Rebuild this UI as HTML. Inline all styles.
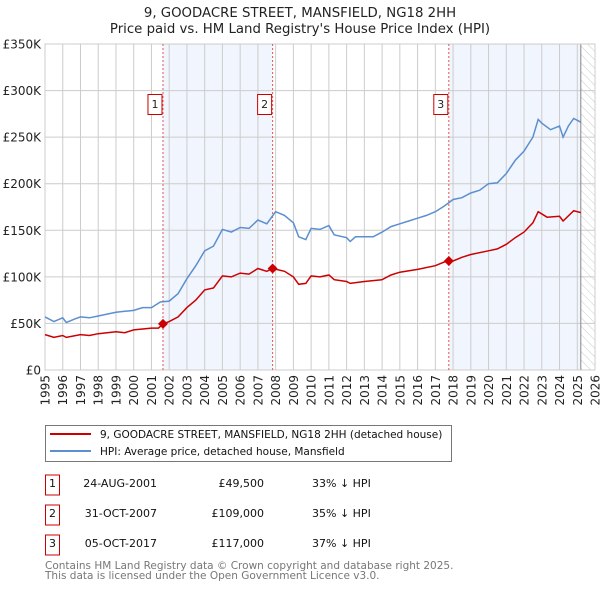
<!DOCTYPE html>
<html><head><meta charset="utf-8"><style>
body{margin:0;background:#fff;font-family:"DejaVu Sans","Liberation Sans",sans-serif;}
svg text{font-family:"DejaVu Sans","Liberation Sans",sans-serif;}
</style></head><body>
<svg id="chart" width="600" height="590" xmlns="http://www.w3.org/2000/svg">
<defs><pattern id="hatch" width="6" height="6" patternUnits="userSpaceOnUse" patternTransform="rotate(-45)"><line x1="0" y1="0" x2="0" y2="6" stroke="#ccc" stroke-width="1"/></pattern></defs>
<text x="300" y="17" text-anchor="middle" font-size="13.3" fill="#222">9, GOODACRE STREET, MANSFIELD, NG18 2HH</text>
<text x="300" y="33" text-anchor="middle" font-size="13.3" fill="#222">Price paid vs. HM Land Registry's House Price Index (HPI)</text>
<g id="plot"></g>
<g>
<rect x="45.5" y="425.5" width="406" height="36" fill="#fff" stroke="#777"/>
<line x1="50" y1="434" x2="91" y2="434" stroke="#cc0000" stroke-width="2"/>
<text x="100" y="438" font-size="10.5" fill="#111">9, GOODACRE STREET, MANSFIELD, NG18 2HH (detached house)</text>
<line x1="50" y1="451" x2="91" y2="451" stroke="#5b8fd0" stroke-width="2"/>
<text x="100" y="455" font-size="10.5" fill="#111">HPI: Average price, detached house, Mansfield</text>
</g>
<g id="table"></g>
<text x="45" y="569" font-size="10.5" fill="#777">Contains HM Land Registry data © Crown copyright and database right 2025.</text>
<text x="45" y="579" font-size="10.5" fill="#777">This data is licensed under the Open Government Licence v3.0.</text>
</svg>
<script>
const hpiYears=[1995,1995.5,1996,1996.2,1996.7,1997,1997.5,1998,1998.5,1999,1999.5,2000,2000.5,2001,2001.5,2002,2002.5,2003,2003.5,2004,2004.5,2005,2005.5,2006,2006.5,2007,2007.5,2008,2008.5,2009,2009.3,2009.7,2010,2010.5,2011,2011.3,2012,2012.2,2012.5,2013,2013.5,2014,2014.5,2015,2015.5,2016,2016.5,2017,2017.5,2018,2018.5,2019,2019.5,2020,2020.5,2021,2021.5,2022,2022.5,2022.8,2023,2023.5,2024,2024.2,2024.5,2024.8,2025.2];
const hpiValues=[57,52,56,51,55,57,56,58,60,62,63,64,67,67,73,74,82,98,112,128,133,151,148,153,152,161,157,170,166,158,143,140,152,151,155,145,142,138,143,143,143,148,154,157,160,163,166,170,176,183,185,190,193,200,201,211,225,235,250,269,265,258,262,250,262,270,266];
const ppdYears=[1995,1995.5,1996,1996.2,1997,1997.5,1998,1999,1999.5,2000,2001,2001.4,2001.65,2002,2002.5,2003,2003.5,2004,2004.5,2005,2005.5,2006,2006.5,2007,2007.5,2007.83,2008.5,2009,2009.3,2009.7,2010,2010.5,2011,2011.3,2012,2012.2,2013,2014,2014.5,2015,2016,2017,2017.5,2017.76,2018,2018.5,2019,2020,2020.5,2021,2021.5,2022,2022.5,2022.8,2023.3,2024,2024.2,2024.8,2025.2];
const ppdValues=[38,35,37,35,38,37,39,41,40,43,45,45,49.5,52,57,67,75,86,88,101,100,104,103,109,106,109,106,100,92,93,101,100,102,97,95,93,95,97,102,105,108,112,116,117,117,121,124,128,130,135,142,148,158,170,164,165,160,171,169];
const saleYears=[2001.65,2007.83,2017.76];
const saleValues=[49.5,109,117];
const saleLabels=["1","2","3"];
const saleDates=["24-AUG-2001","31-OCT-2007","05-OCT-2017"];
const salePrices=["£49,500","£109,000","£117,000"];
const salePcts=["33% ↓ HPI","35% ↓ HPI","37% ↓ HPI"];
const yTicks=[0,50,100,150,200,250,300,350];
const yTickLabels=["£0","£50K","£100K","£150K","£200K","£250K","£300K","£350K"];
const xTicks=[1995,1996,1997,1998,1999,2000,2001,2002,2003,2004,2005,2006,2007,2008,2009,2010,2011,2012,2013,2014,2015,2016,2017,2018,2019,2020,2021,2022,2023,2024,2025,2026];

const NS="http://www.w3.org/2000/svg";
const X0=45,X1=595,Y0=370,Y1=44;
const xs=y=>X0+(y-1995)/(2026-1995)*(X1-X0);
const ys=v=>Y0-v/350*(Y0-Y1);
const plot=document.getElementById('plot');
function mk(tag,attrs,parent){const e=document.createElementNS(NS,tag);for(const k in attrs)e.setAttribute(k,attrs[k]);(parent||plot).appendChild(e);return e;}
let e;
e=mk('rect',{x:xs(saleYears[0]),y:Y1,width:xs(saleYears[1])-xs(saleYears[0]),height:Y0-Y1,fill:'#eef3fc',opacity:0.8});


e=mk('rect',{x:xs(saleYears[2]),y:Y1,width:xs(2025.2)-xs(saleYears[2]),height:Y0-Y1,fill:'#eef3fc',opacity:0.8});


e=mk('rect',{x:xs(2025.2),y:Y1,width:X1-xs(2025.2),height:Y0-Y1,fill:'url(#hatch)'});


yTicks.forEach((t,i)=>{
 e=mk('line',{x1:X0,x2:X1,y1:ys(t),y2:ys(t),stroke:'#ccc','stroke-width':1});
 
 
 e=mk('text',{x:X0-4,y:ys(t)+4.5,'text-anchor':'end','font-size':12,fill:'#222'});
 e.textContent=yTickLabels[i];
 
 
});
xTicks.forEach(t=>{
 e=mk('line',{x1:xs(t),x2:xs(t),y1:Y1,y2:Y0,stroke:'#ccc','stroke-width':1});
 
 
 e=mk('text',{x:0,y:0,transform:`translate(${xs(t)+4.5},${Y0+5}) rotate(-90)`,'text-anchor':'end','font-size':12,fill:'#222'});
 e.textContent=t;
 
 
});
e=mk('line',{x1:xs(2025.2),x2:xs(2025.2),y1:Y1,y2:Y0,stroke:'#888','stroke-width':1});


e=mk('rect',{x:X0,y:Y1,width:X1-X0,height:Y0-Y1,fill:'none',stroke:'#ccc'});


saleYears.forEach((y,i)=>{
 e=mk('line',{x1:xs(y),x2:xs(y),y1:Y1,y2:Y0,stroke:'#e05555','stroke-width':1,'stroke-dasharray':'2,2'});
 
 
});
function pts(a,b){return a.map((y,i)=>xs(y).toFixed(1)+','+ys(b[i]).toFixed(1)).join(' ');}
e=mk('polyline',{points:pts(hpiYears,hpiValues),fill:'none',stroke:'#5b8fd0','stroke-width':1.5});


e=mk('polyline',{points:pts(ppdYears,ppdValues),fill:'none',stroke:'#cc0000','stroke-width':1.5});


saleYears.forEach((y,i)=>{
 const cx=xs(y),cy=ys(saleValues[i]);
 e=mk('polygon',{points:`${cx},${cy-5} ${cx+5},${cy} ${cx},${cy+5} ${cx-5},${cy}`,fill:'#cc0000'});
 
 
 e=mk('rect',{x:cx-15,y:94.5,width:14,height:20,fill:'#fff',stroke:'#cc0000'});
 
 
 e=mk('text',{x:cx-8,y:108,'text-anchor':'middle','font-size':11,fill:'#222'});
 e.textContent=saleLabels[i];
 
 
});
const table=document.getElementById('table');
saleLabels.forEach((l,i)=>{
 const cy=483+i*30;
 e=mk('rect',{x:45.5,y:cy-8,width:14,height:20,fill:'#fff',stroke:'#cc0000'},table);
 
 
 e=mk('text',{x:52.5,y:cy+4,'text-anchor':'middle','font-size':11,fill:'#111'},table);e.textContent=l;
 
 
 e=mk('text',{x:157,y:cy+4,'text-anchor':'end','font-size':11,fill:'#111'},table);e.textContent=saleDates[i];
 
 
 e=mk('text',{x:264,y:cy+4,'text-anchor':'end','font-size':11,fill:'#111'},table);e.textContent=salePrices[i];
 
 
 e=mk('text',{x:312,y:cy+4,'font-size':11,fill:'#111'},table);e.textContent=salePcts[i];
 
 
});
</script>
</body></html>
